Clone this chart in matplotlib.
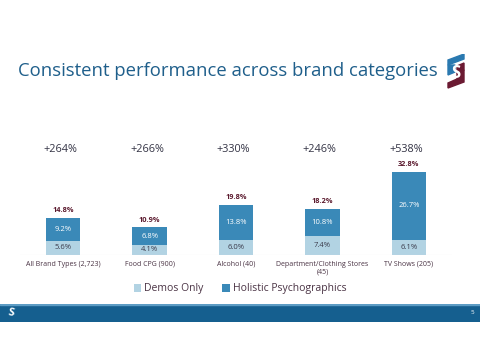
import matplotlib
matplotlib.use("Agg")
import matplotlib.pyplot as plt
from matplotlib.patches import Polygon, Rectangle
import numpy as np

categories = ["All Brand Types (2,723)", "Food CPG (900)", "Alcohol (40)",
              "Department/Clothing Stores\n(45)", "TV Shows (205)"]
demos = [5.6, 4.1, 6.0, 7.4, 6.1]
holistic = [9.2, 6.8, 13.8, 10.8, 26.7]
totals = [14.8, 10.9, 19.8, 18.2, 32.8]
lifts = ["+264%", "+266%", "+330%", "+246%", "+538%"]

plt.rcParams['font.family'] = ['Open Sans', 'DejaVu Sans']

W, H = 480, 360
fig = plt.figure(figsize=(4.8, 3.6), dpi=100)
fig.patch.set_facecolor('white')

LIGHT = '#b2d3e3'
DARK = '#3a89b8'
TXT = '#4a3344'
MAROON = '#5b1a2e'

# Title
fig.text(18 / W, 1 - 71 / H, "Consistent performance across brand categories",
         fontsize=13.3, color='#1f5f8b', ha='left', va='center')

# Bottom band
band = fig.add_axes([0, 1 - 322 / H, 1, 18 / H])
band.set_xlim(0, W); band.set_ylim(0, 18)
band.axis('off')
band.add_patch(Rectangle((0, 0), W, 18, color='#155f8f'))
band.add_patch(Rectangle((0, 17), W, 1, color='#5d9cc4'))
band.text(11, 9, "S", color='white', fontsize=8, fontweight='bold', ha='center', va='center',
          rotation=-10)
band.text(472, 9, "5", color='white', fontsize=4.5, ha='center', va='center')

# Logo top right
logo = fig.add_axes([446 / W, 1 - 91 / H, 20 / W, 37 / H])
logo.set_xlim(0, 20); logo.set_ylim(0, 37)
logo.axis('off')
# blue upper part
logo.add_patch(Polygon([[2, 26], [18, 32], [18, 37], [2, 31]], closed=True, color='#2a79b0'))
logo.add_patch(Polygon([[2, 16], [9, 19], [9, 26], [2, 26]], closed=True, color='#2a79b0'))
# maroon lower part
logo.add_patch(Polygon([[11, 18], [18, 21], [18, 9], [2, 3], [2, 8], [11, 12]], closed=True, color='#6b1a32'))
logo.add_patch(Polygon([[11, 18], [18, 21], [18, 28], [11, 25]], closed=True, color='#6b1a32'))
logo.text(10, 18, "S", color='white', fontsize=12, fontweight='bold', ha='center', va='center')

# Main axes
px_per = 2.53
ax = fig.add_axes([20 / W, 1 - 255 / H, 432 / W, 125 / H])
ax.set_xlim(-0.5, 4.5)
ax.set_ylim(0, 125 / px_per)
x = np.arange(len(categories))
bw = 0.4
ax.bar(x, demos, bw, color=LIGHT, label='Demos Only')
ax.bar(x, holistic, bw, bottom=demos, color=DARK, label='Holistic Psychographics')
ax.axhline(0, color='#e3e3e3', lw=0.8)
for s in ax.spines.values():
    s.set_visible(False)
ax.set_yticks([])
ax.set_xticks(x)
ax.set_xticklabels(categories, fontsize=5, color=TXT, linespacing=1.1)
ax.tick_params(axis='x', length=0, pad=4)

for i in range(len(categories)):
    ax.text(x[i], demos[i] / 2, f"{demos[i]:.1f}%", ha='center', va='center',
            fontsize=5.5, color='#3a3a4a')
    ax.text(x[i], demos[i] + holistic[i] / 2, f"{holistic[i]:.1f}%", ha='center',
            va='center', fontsize=5.5, color='white')
    ax.text(x[i], totals[i] + 2.9, f"{totals[i]:.1f}%", ha='center', va='center',
            fontsize=5.3, color=MAROON, fontweight='bold')
    ax.text(x[i] - 0.03, (255 - 150) / px_per, lifts[i], ha='center', va='center',
            fontsize=7.8, color='#333344')

leg = fig.legend(loc='center', bbox_to_anchor=(240 / W, 1 - 289 / H), ncol=2,
                 frameon=False, fontsize=7.5, handlelength=0.7, handleheight=0.7,
                 handletextpad=0.3, columnspacing=1.8)
for t in leg.get_texts():
    t.set_color(TXT)

fig.savefig("out.png", dpi=100)
